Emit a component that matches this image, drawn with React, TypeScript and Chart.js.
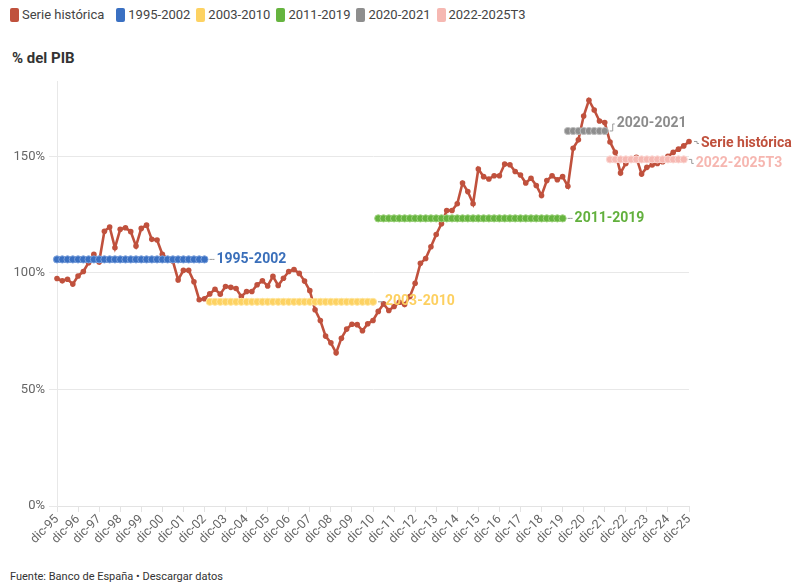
import React, { useEffect, useRef } from "react";
import { Chart, registerables } from "chart.js";

Chart.register(...registerables);

const FONT = "Roboto, 'Noto Sans', sans-serif";

// Quarterly categories: dic-95 ... dic-25
const quarterMonths = ["mar", "jun", "sep", "dic"];
const categories: string[] = ["dic-95"];
for (let y = 1996; y <= 2025; y++) {
  for (const m of quarterMonths) categories.push(`${m}-${String(y % 100).padStart(2, "0")}`);
}

// Serie histórica (% del PIB)
const serieHistorica: number[] = [
  97.6, 96.6, 97.3, 95.2, 98.7, 100.6, 104.4, 108.0, 104.7, 117.9,
  119.7, 110.8, 118.7, 119.4, 117.7, 111.5, 119.1, 120.5, 114.4, 114.1,
  108.0, 106.0, 105.1, 97.0, 101.1, 101.1, 96.2, 88.5, 88.9, 91.0,
  93.0, 90.9, 94.2, 93.8, 93.3, 89.9, 92.0, 92.0, 94.9, 96.6,
  94.4, 98.5, 94.6, 97.7, 100.6, 101.5, 99.8, 96.5, 92.4, 84.2,
  79.6, 72.9, 70.0, 65.7, 72.0, 75.9, 78.0, 77.8, 75.2, 78.2,
  79.6, 83.5, 86.7, 83.9, 85.6, 87.4, 86.4, 89.9, 95.6, 104.1,
  106.2, 111.2, 116.5, 121.1, 126.8, 126.8, 129.7, 138.6, 134.9, 129.7,
  144.6, 141.3, 140.3, 141.7, 141.7, 146.7, 146.4, 143.5, 142.0, 138.6,
  140.6, 137.5, 133.2, 139.6, 141.7, 140.0, 141.3, 137.2, 153.5, 157.1,
  167.3, 174.1, 169.9, 165.2, 164.5, 156.2, 151.7, 142.9, 147.0, 148.8,
  149.6, 142.4, 145.3, 146.3, 147.0, 147.7, 150.0, 151.7, 153.1, 154.5,
  156.4,
];

// Period averages
const periodNames = ["1995-2002", "2003-2010", "2011-2019", "2020-2021", "2022-2025T3"];
const periodStart = ["dic-95", "mar-03", "mar-11", "mar-20", "mar-22"];
const periodEnd = ["dic-02", "dic-10", "dic-19", "dic-21", "sep-25"];
const periodAverages = [105.8, 87.6, 123.4, 160.9, 148.7];
const periodColors = ["#3a70c2", "#fdd262", "#66b43f", "#8e8e8e", "#f6b8b2"];
const periodPointBorders = ["#7ea2dc", "#ffe6a0", "#9fd27f", "#bdbdbd", "#fbd8d4"];
const periodLabelColors = ["#3a6fba", "#fdd060", "#62b03d", "#8c8c8c", "#f6b6b0"];
const periodLabelDy = [0, 0, 0, -7, 4];

const serieColor = "#c0513d";
const serieName = "Serie histórica";

const yTicks = [0, 50, 100, 150];

function periodData(k: number): (number | null)[] {
  const a = categories.indexOf(periodStart[k]);
  const b = categories.indexOf(periodEnd[k]);
  return categories.map((_, i) => (i >= a && i <= b ? periodAverages[k] : null));
}

const endLabelPlugin = {
  id: "endLabels",
  afterDatasetsDraw(chart: any) {
    const ctx = chart.ctx as CanvasRenderingContext2D;
    chart.data.datasets.forEach((ds: any, di: number) => {
      const meta = chart.getDatasetMeta(di);
      let last = -1;
      for (let k = ds.data.length - 1; k >= 0; k--) {
        if (ds.data[k] != null) { last = k; break; }
      }
      if (last < 0) return;
      const pt = meta.data[last];
      const dy = ds.labelDy || 0;
      ctx.save();
      ctx.strokeStyle = "#9a9a9a";
      ctx.lineWidth = 1;
      ctx.beginPath();
      ctx.moveTo(pt.x + 5, pt.y);
      ctx.lineTo(pt.x + 8, pt.y);
      ctx.lineTo(pt.x + 8, pt.y + dy);
      ctx.lineTo(pt.x + 10, pt.y + dy);
      ctx.stroke();
      ctx.font = `bold 14px ${FONT}`;
      ctx.fillStyle = ds.labelColor;
      ctx.textAlign = "left";
      ctx.textBaseline = "middle";
      ctx.fillText(ds.label, pt.x + 12, pt.y + dy);
      ctx.restore();
    });
  },
};

export default function App() {
  const canvasRef = useRef<HTMLCanvasElement | null>(null);

  useEffect(() => {
    if (!canvasRef.current) return;
    const datasets: any[] = periodNames.map((name, k) => ({
      label: name,
      data: periodData(k),
      borderColor: periodColors[k],
      backgroundColor: periodColors[k],
      pointBackgroundColor: periodColors[k],
      pointBorderColor: periodPointBorders[k],
      pointBorderWidth: 1,
      pointRadius: 3.6,
      borderWidth: 6,
      borderCapStyle: "round",
      labelColor: periodLabelColors[k],
      labelDy: periodLabelDy[k],
      clip: false,
      order: 1,
    }));
    datasets.push({
      label: serieName,
      data: serieHistorica,
      borderColor: serieColor,
      backgroundColor: serieColor,
      pointBackgroundColor: serieColor,
      pointBorderColor: serieColor,
      pointRadius: 2.8,
      pointBorderWidth: 0,
      borderWidth: 2.6,
      labelColor: serieColor,
      labelDy: 2,
      clip: false,
      order: 2,
    });

    const chart = new Chart(canvasRef.current, {
      type: "line",
      data: { labels: categories, datasets },
      plugins: [endLabelPlugin],
      options: {
        animation: false,
        responsive: false,
        maintainAspectRatio: false,
        layout: { padding: { top: 10, right: 104, bottom: 0, left: 0 } },
        plugins: { legend: { display: false }, tooltip: { enabled: false } },
        elements: { line: { tension: 0 } },
        scales: {
          x: {
            type: "category",
            offset: false,
            afterFit: (s: any) => { s.height = 64; },
            grid: {
              drawOnChartArea: false,
              drawTicks: true,
              tickLength: 6,
              color: "#e3e3e3",
            },
            border: { display: true, color: "#e3e3e3" },
            ticks: {
              autoSkip: false,
              minRotation: 45,
              maxRotation: 45,
              padding: 0,
              color: "#666",
              font: { family: FONT, size: 12.5 },
              callback: (_v: any, i: number) => (categories[i].startsWith("dic") ? categories[i] : null),
            },
          },
          y: {
            min: 0,
            max: 182,
            afterFit: (s: any) => { s.width = 57; },
            afterBuildTicks: (s: any) => { s.ticks = yTicks.map((v) => ({ value: v })); },
            grid: { color: "#e8e8e8", tickLength: 8, drawTicks: true },
            border: { display: true, color: "#e8e8e8" },
            ticks: {
              includeBounds: false,
              padding: 4,
              color: "#666",
              font: { family: FONT, size: 13 },
              callback: (v: any) => `${v}%`,
            },
          },
        },
      } as any,
    });
    return () => chart.destroy();
  }, []);

  const legendItems = [
    { name: serieName, color: serieColor },
    ...periodNames.map((n, k) => ({ name: n, color: periodColors[k] })),
  ];

  return (
    <div
      style={{
        position: "fixed",
        left: 0,
        top: 0,
        width: 793,
        height: 585,
        background: "#fff",
        fontFamily: FONT,
        color: "#333",
        overflow: "hidden",
      }}
    >
      <div style={{ position: "absolute", left: 10, top: 7, display: "flex", alignItems: "center", fontSize: 13, color: "#444" }}>
        {legendItems.map((it, idx) => (
          <div key={it.name} style={{ display: "flex", alignItems: "center", marginRight: idx === 0 ? 12 : 6 }}>
            <span style={{ display: "inline-block", width: 9, height: 14, borderRadius: 2, background: it.color, marginRight: 3 }} />
            <span>{it.name}</span>
          </div>
        ))}
      </div>
      <div style={{ position: "absolute", left: 12, top: 49, fontSize: 15, fontWeight: 700, color: "#333" }}>% del PIB</div>
      <canvas
        ref={canvasRef}
        width={793}
        height={500}
        style={{ position: "absolute", left: 0, top: 70, width: 793, height: 500 }}
      />
      <div style={{ position: "absolute", left: 10, top: 570, fontSize: 11, color: "#333" }}>
        Fuente: Banco de España • Descargar datos
      </div>
    </div>
  );
}
